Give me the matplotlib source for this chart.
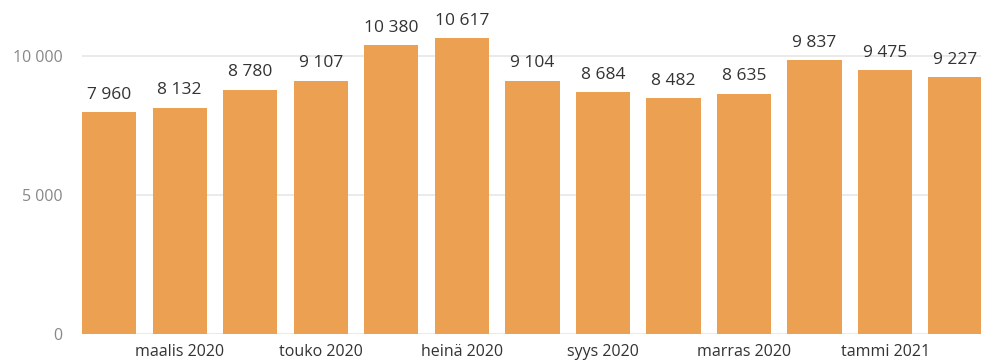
import numpy as np
import matplotlib
matplotlib.use("Agg")
import matplotlib.pyplot as plt
from matplotlib.ticker import FuncFormatter

plt.rcParams["font.family"] = ["Open Sans", "DejaVu Sans"]

# data
months = ["helmi 2020", "maalis 2020", "huhti 2020", "touko 2020", "kesä 2020",
          "heinä 2020", "elo 2020", "syys 2020", "loka 2020", "marras 2020",
          "joulu 2020", "tammi 2021", "helmi 2021"]
values = [7960, 8132, 8780, 9107, 10380, 10617, 9104, 8684, 8482, 8635, 9837, 9475, 9227]
yticks = [0, 5000, 10000]


def fi_num(v, pos=None):
    # Finnish style thousands separator
    return f"{int(v):,}".replace(",", " ")


fig = plt.figure(figsize=(9.81, 3.64), dpi=100)
ax = fig.add_axes([82 / 981, 30 / 364, 899 / 981, 334 / 364])

x = np.arange(len(values))
bars = ax.bar(x, values, width=0.77, color="#EBA052", zorder=3)

for xi, v in zip(x, values):
    ax.text(xi, v + 330, fi_num(v), ha="center", va="bottom",
            fontsize=12.5, color="#333333", clip_on=False)

ax.set_xlim(-0.385, 12.36)
ax.set_ylim(0, 12000)
ax.set_yticks(yticks)
ax.yaxis.set_major_formatter(FuncFormatter(fi_num))
ax.set_xticks(x[1::2])
ax.set_xticklabels(months[1::2])

ax.grid(axis="y", color="#e6e6e6", linewidth=1.2, zorder=0)
for s in ax.spines.values():
    s.set_visible(False)
ax.tick_params(axis="y", length=0, pad=14, labelsize=11.5, labelcolor="#888888")
ax.tick_params(axis="x", length=0, pad=7, labelsize=11.5, labelcolor="#333333")

fig.savefig("out.png", dpi=100)
